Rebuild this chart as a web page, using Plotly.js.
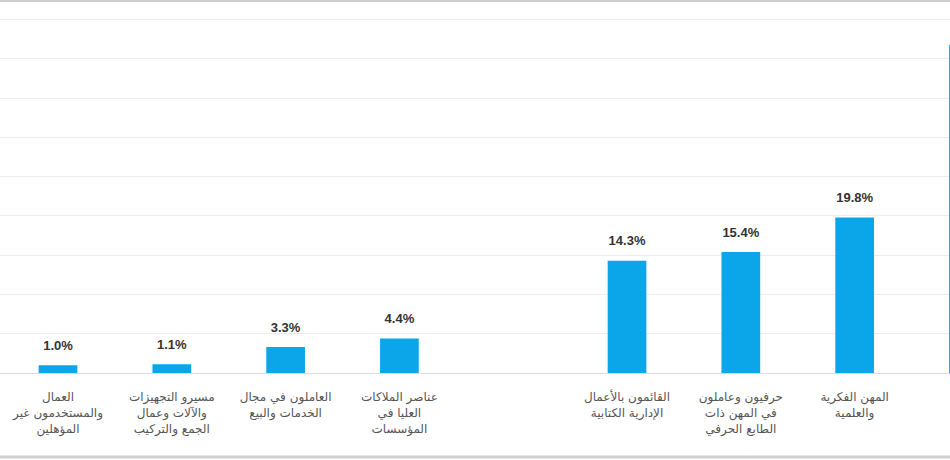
<!DOCTYPE html>
<html>
<head>
<meta charset="utf-8">
<script src="https://cdn.plot.ly/plotly-3.0.1.min.js"></script>
<style>html,body{margin:0;padding:0;background:#fff;overflow:hidden}#chart{width:950px;height:460px}</style>
</head>
<body>
<div id="chart"></div>
<script>
const categories = [
  "العمال<br>والمستخدمون غير<br>المؤهلين",
  "مسيرو التجهيزات<br>والآلات وعمال<br>الجمع والتركيب",
  "العاملون في مجال<br>الخدمات والبيع",
  "عناصر الملاكات<br>العليا في<br>المؤسسات",
  " ",
  "القائمون بالأعمال<br>الإدارية الكتابية",
  "حرفيون وعاملون<br>في المهن ذات<br>الطابع الحرفي",
  "المهن الفكرية<br>والعلمية",
  "المهن الوسطى"
];
const values = [1.0, 1.1, 3.3, 4.4, null, 14.3, 15.4, 19.8, 41.8];
const valueLabels = ["1.0%", "1.1%", "3.3%", "4.4%", "", "14.3%", "15.4%", "19.8%", "41.8%"];

const barColor = "#0aa6e9";

const bars = {
  type: "bar",
  x: categories,
  y: values,
  width: 0.34,
  marker: {color: barColor},
  hoverinfo: "skip",
  cliponaxis: false
};

const labels = {
  type: "scatter",
  mode: "markers+text",
  x: categories,
  y: values,
  text: valueLabels,
  textposition: "top center",
  marker: {size: 18, color: "rgba(0,0,0,0)"},
  textfont: {family: "Liberation Sans, Arial, sans-serif", size: 13, color: "#333333", weight: "bold"},
  cliponaxis: false,
  hoverinfo: "skip"
};

const layout = {
  width: 950,
  height: 460,
  margin: {l: 0, r: 0, t: 0, b: 87, pad: 0},
  paper_bgcolor: "#ffffff",
  plot_bgcolor: "#ffffff",
  showlegend: false,
  xaxis: {
    type: "category",
    range: [-0.5097, 7.838],
    showgrid: false,
    zeroline: false,
    showline: true,
    linecolor: "#dcdcdc",
    linewidth: 1,
    ticks: "",
    ticklabelstandoff: 13,
    tickfont: {family: "DejaVu Sans, Noto Sans, sans-serif", size: 12, color: "#555555"},
    fixedrange: true
  },
  yaxis: {
    range: [0, 47.5],
    dtick: 5,
    tick0: 0,
    showgrid: true,
    gridcolor: "#ececec",
    gridwidth: 1,
    zeroline: false,
    showticklabels: false,
    ticks: "",
    fixedrange: true
  },
  shapes: [
    {type: "line", xref: "paper", yref: "paper", x0: 0, x1: 1, y0: 0.997, y1: 0.997, line: {color: "#cfcfcf", width: 2}},
    {type: "line", xref: "paper", yref: "paper", x0: 0, x1: 1, y0: -0.225, y1: -0.225, line: {color: "#d0d0d0", width: 3}}
  ]
};

Plotly.newPlot("chart", [bars, labels], layout, {displayModeBar: false, staticPlot: true});
</script>
</body>
</html>
